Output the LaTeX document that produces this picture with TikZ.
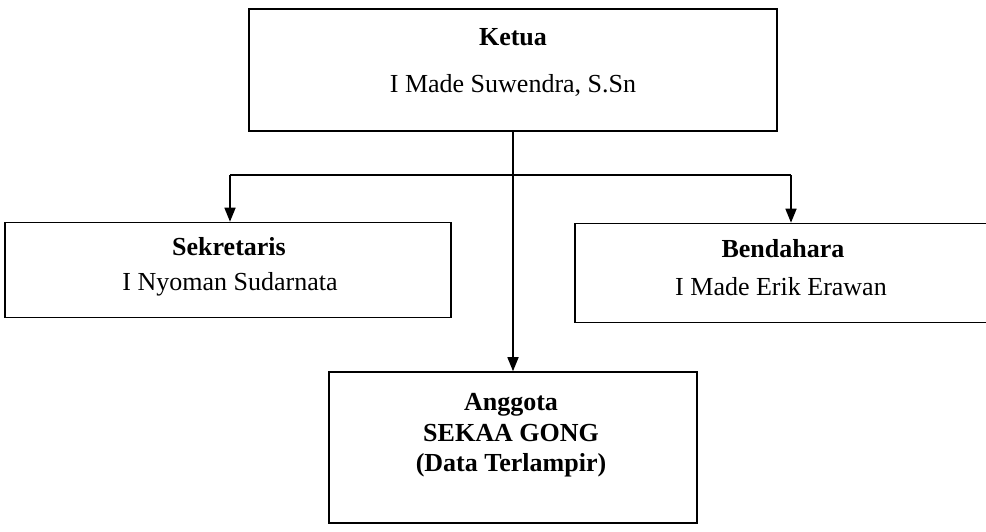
\documentclass[tikz,border=0pt]{standalone}
\usepackage{fontspec}
\setmainfont{Liberation Serif}
\usetikzlibrary{arrows.meta}
\tikzset{
  box/.style={draw, line width=1.6pt, rectangle, inner sep=0pt},
  lbl/.style={anchor=base, inner sep=0pt, font=\fontsize{26}{30}\selectfont},
  conn/.style={line width=1.6pt},
  arr/.style={conn, -{Triangle[length=14pt,width=11pt]}}
}
\begin{document}
\begin{tikzpicture}[x=1pt,y=-1pt]
\useasboundingbox (0,0) rectangle (986,531);
\fill[white] (0,0) rectangle (986,531);
\clip (0,0) rectangle (986,531);
% boxes
\node[box, minimum width=528pt, minimum height=122pt] (ketua) at (513,70) {};
\node[box, minimum width=446pt, minimum height=95pt] (sek) at (228,270) {};
\node[box, minimum width=426pt, minimum height=99pt] (bend) at (788,273) {};
\node[box, minimum width=368pt, minimum height=151pt] (angg) at (513,447.5) {};
% texts
\node[lbl] (t1) at (513,45) {\textbf{Ketua}};
\node[lbl] (t2) at (513,92) {I Made Suwendra, S.Sn};
\node[lbl] (t3) at (229,255) {\textbf{Sekretaris}};
\node[lbl] (t4) at (230,290) {I Nyoman Sudarnata};
\node[lbl] (t5) at (783,257) {\textbf{Bendahara}};
\node[lbl] (t6) at (781,295) {I Made Erik Erawan};
\node[lbl] (t7) at (511,410) {\textbf{Anggota}};
\node[lbl] (t8) at (511,441) {\textbf{SEKAA GONG}};
\node[lbl] (t9) at (511,471) {\textbf{(Data Terlampir)}};
% connectors
\coordinate (hL) at (230,175);
\coordinate (hR) at (791,175);
\draw[arr] (ketua.south) -- (ketua.south |- angg.north);
\draw[conn] (hL) -- (hR);
\draw[arr] (hL) -- (hL |- sek.north);
\draw[arr] (hR) -- (hR |- bend.north);
\end{tikzpicture}
\end{document}
